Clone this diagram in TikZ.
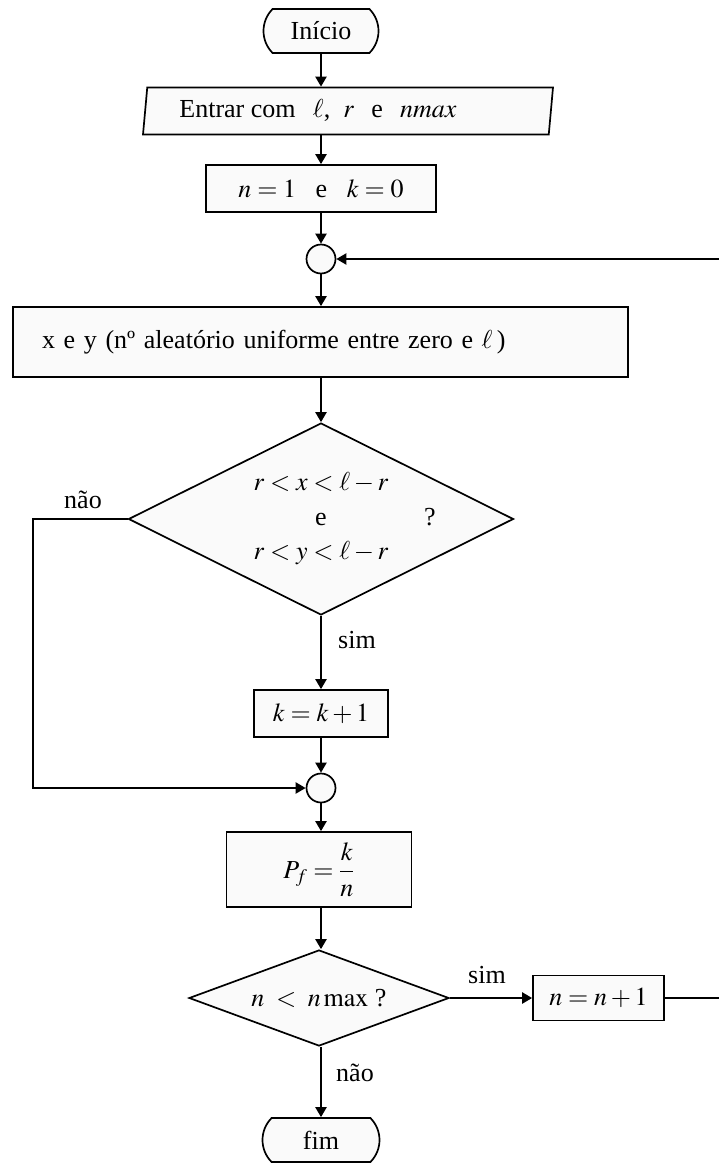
\documentclass[tikz,border=0pt]{standalone}
\usepackage{amsmath}
\usepackage{mathptmx}
\usepackage[no-math]{fontspec}
\setmainfont{Liberation Serif}
\usetikzlibrary{arrows.meta,shapes.geometric,shapes.misc}
\tikzset{
  base/.style={draw, line width=1.7pt, fill=black!2, font=\fontsize{26}{31}\selectfont, inner sep=0pt},
  term/.style={base, rounded rectangle, rounded rectangle arc length=90},
  box/.style={base, rectangle},
  dec/.style={base, diamond},
  junc/.style={base, circle, minimum size=29pt},
  io/.style={base, trapezium, trapezium left angle=79, trapezium right angle=101, trapezium stretches body},
  flow/.style={line width=2.2pt, -{Triangle[length=10pt,width=11pt]}},
  lbl/.style={font=\fontsize{26}{31}\selectfont, inner sep=0pt},
}
\begin{document}
\begin{tikzpicture}[x=1pt,y=-1pt]
\path[fill=white] (0,0) rectangle (718,1167);
\useasboundingbox (0,0) rectangle (718,1167);
\coordinate (lftx) at (33,0);
\coordinate (rgtx) at (720,0);

\node[term, minimum width=115pt, minimum height=44pt] (ini) at (321,31) {Início};
\node[io, minimum width=410pt, minimum height=47pt] (inp) at (348,111) {Entrar com \ \,$\ell$, \ $r$ \ \,e \ \,$nmax$\kern60pt\relax};
\node[box, minimum width=230pt, minimum height=47pt] (n1) at (321,188.5) {$n=1$ \ \ e \ \ $k=0$};
\node[junc] (c1) at (321,259) {};
\node[box, minimum width=615pt, minimum height=70pt, text width=557pt, align=left, inner xsep=29pt] (xy) at (320.5,342) {x e y (nº aleatório uniforme entre zero e $\ell$\,)};
\node[dec, aspect=2, minimum width=385pt, minimum height=192pt, align=center, font=\fontsize{26}{34.5}\selectfont] (d1) at (321,519) {$r<x<\ell-r$\\e\\$r<y<\ell-r$};
\node[lbl] (q1) at (430,517) {?};
\node[box, minimum width=134pt, minimum height=47pt] (kk) at (321,713.5) {$k=k+1$};
\node[junc] (c2) at (321,788) {};
\node[box, minimum width=185pt, minimum height=75pt] (pf) at (319,869.5) {$P_f=\displaystyle\frac{k}{n}$};
\node[dec, aspect=2.7, minimum width=260pt, minimum height=96pt] (d2) at (319,998) {$n\;<\;n\,\mathrm{max}$ ?};
\node[box, minimum width=131pt, minimum height=45pt] (nn) at (598.5,998) {$n=n+1$};
\node[term, minimum width=117pt, minimum height=44pt] (fim) at (321,1140) {fim};

\node[lbl] (lnao1) at (83,500) {não};
\node[lbl] (lsim1) at (357,640) {sim};
\node[lbl] (lsim2) at (487,975) {sim};
\node[lbl] (lnao2) at (355,1073) {não};

\draw[flow] (ini.south) -- (ini.south |- inp.north);
\draw[flow] (n1.north |- inp.south) -- (n1.north);
\draw[flow] (n1.south) -- (c1.north);
\draw[flow] (c1.south) -- (c1.south |- xy.north);
\draw[flow] (d1.north |- xy.south) -- (d1.north);
\draw[flow] (d1.south) -- (kk.north);
\draw[flow] (kk.south) -- (c2.north);
\draw[flow] (c2.south) -- (c2.south |- pf.north);
\draw[flow] (c2.south |- pf.south) -- (c2.south |- d2.north);
\draw[flow] (d2.east) -- (nn.west);
\draw[flow] (c2.south |- d2.south) -- (fim.north);
\draw[flow] (d1.west) -- (d1.west -| lftx) |- (c2.west);
\draw[flow] (nn.east) -- (nn.east -| rgtx) |- (c1.east);
\end{tikzpicture}
\end{document}
